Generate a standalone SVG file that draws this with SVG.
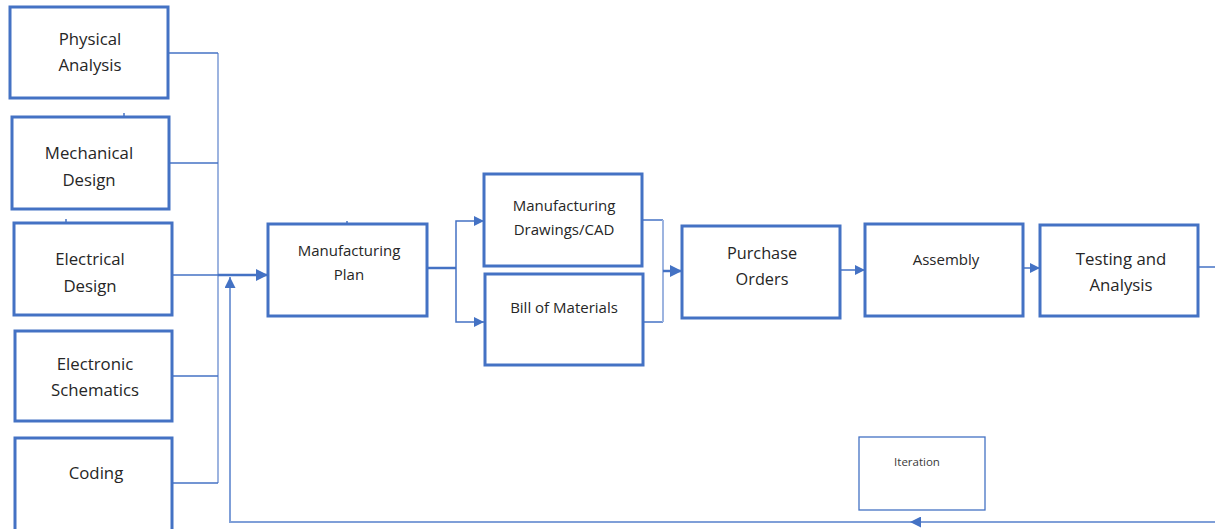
<svg xmlns="http://www.w3.org/2000/svg" width="1215" height="529" viewBox="0 0 1215 529">
<style>
.box{fill:#fff;stroke:#4472C4;stroke-width:3}
.thin{fill:#fff;stroke:#4472C4;stroke-width:1.3}
.t{font-family:"Open Sans","Liberation Sans",sans-serif;font-size:15px;fill:#262626;text-anchor:middle}
.l{font-size:16.8px}
.m{font-size:16.3px}
.ts{font-family:"Open Sans","Liberation Sans",sans-serif;font-size:11.5px;fill:#3a3a3a;text-anchor:middle}
.c{fill:none;stroke:#4472C4;stroke-width:1.5}
.cl{fill:none;stroke:#9DB4E0;stroke-width:2}
.ck{fill:none;stroke:#4472C4;stroke-width:2.5}
.fb{fill:none;stroke:#7F9FD8;stroke-width:2}
</style>
<defs>
<marker id="ah" viewBox="0 0 10 10" refX="10" refY="5" markerWidth="10" markerHeight="10" markerUnits="userSpaceOnUse" orient="auto"><path d="M0,0 L10,5 L0,10 z" fill="#4472C4"/></marker>
<marker id="ahb" viewBox="0 0 10 10" refX="10" refY="5" markerWidth="12" markerHeight="12" markerUnits="userSpaceOnUse" orient="auto"><path d="M0,0 L10,5 L0,10 z" fill="#4472C4"/></marker>
<marker id="ahf" viewBox="0 0 10 10" refX="10" refY="5" markerWidth="11" markerHeight="11" markerUnits="userSpaceOnUse" orient="auto"><path d="M0,0 L10,5 L0,10 z" fill="#4472C4"/></marker>
</defs>
<g id="connectors">
<line class="cl" x1="218" y1="53" x2="218" y2="483"/>
<polyline class="c" points="168,53 218,53"/>
<polyline class="c" points="169,163 218,163"/>
<polyline class="c" points="172,275 218,275"/>
<polyline class="c" points="172,376 218,376"/>
<polyline class="c" points="172,483 218,483"/>
<line class="c" x1="124" y1="113" x2="124" y2="117"/>
<line class="c" x1="66" y1="219" x2="66" y2="223"/>
<line class="c" x1="347" y1="221" x2="347" y2="224"/>
<line class="ck" x1="218" y1="275" x2="268" y2="275" marker-end="url(#ahb)"/>
<polyline class="ck" points="427,268 456,268"/>
<polyline class="c" points="456,268 456,221 484,221" marker-end="url(#ah)"/>
<polyline class="c" points="456,268 456,322 484,322" marker-end="url(#ah)"/>
<polyline class="c" points="642,220 663,220"/>
<polyline class="c" points="643,322 663,322"/>
<line class="cl" x1="663" y1="220" x2="663" y2="322"/>
<line class="ck" x1="663" y1="271" x2="682" y2="271" marker-end="url(#ahb)"/>
<line class="c" x1="840" y1="270" x2="865" y2="270" marker-end="url(#ah)"/>
<line class="c" x1="1023" y1="268" x2="1040" y2="268" marker-end="url(#ah)"/>
<line class="c" x1="1198" y1="267" x2="1215" y2="267"/>
<polyline class="fb" points="1215,522 230,522 230,278"/>
<line class="fb" x1="1000" y1="522" x2="910" y2="522" marker-end="url(#ahf)"/>
<line class="fb" x1="230" y1="300" x2="230" y2="277" marker-end="url(#ahf)"/>
</g>
<g id="physical-analysis"><rect class="box" x="10" y="7" width="158" height="91"/><text class="t l" x="90" y="45">Physical</text><text class="t l" x="90" y="71">Analysis</text></g>
<g id="mechanical-design"><rect class="box" x="12" y="117" width="157" height="92"/><text class="t l" x="89" y="159">Mechanical</text><text class="t l" x="89" y="186">Design</text></g>
<g id="electrical-design"><rect class="box" x="14" y="223" width="158" height="92"/><text class="t l" x="90" y="265">Electrical</text><text class="t l" x="90" y="292">Design</text></g>
<g id="electronic-schematics"><rect class="box" x="15" y="331" width="157" height="90"/><text class="t l" x="95" y="370">Electronic</text><text class="t l" x="95" y="396">Schematics</text></g>
<g id="coding"><rect class="box" x="15" y="438" width="157" height="95"/><text class="t l" x="96" y="479">Coding</text></g>
<g id="manufacturing-plan"><rect class="box" x="268" y="224" width="159" height="92"/><text class="t" x="349" y="256">Manufacturing</text><text class="t" x="349" y="280">Plan</text></g>
<g id="manufacturing-drawings"><rect class="box" x="484" y="174" width="158" height="92"/><text class="t" x="564" y="211">Manufacturing</text><text class="t" x="564" y="235">Drawings/CAD</text></g>
<g id="bill-of-materials"><rect class="box" x="485" y="274" width="158" height="91"/><text class="t" x="564" y="313">Bill of Materials</text></g>
<g id="purchase-orders"><rect class="box" x="682" y="226" width="158" height="92"/><text class="t m" x="762" y="259">Purchase</text><text class="t m" x="762" y="285">Orders</text></g>
<g id="assembly"><rect class="box" x="865" y="224" width="158" height="92"/><text class="t" x="946" y="265">Assembly</text></g>
<g id="testing-analysis"><rect class="box" x="1040" y="225" width="158" height="91"/><text class="t l" x="1121" y="265">Testing and</text><text class="t l" x="1121" y="291">Analysis</text></g>
<g id="iteration"><rect class="thin" x="859" y="437" width="126" height="73"/><text class="ts" x="917" y="466">Iteration</text></g>
</svg>
